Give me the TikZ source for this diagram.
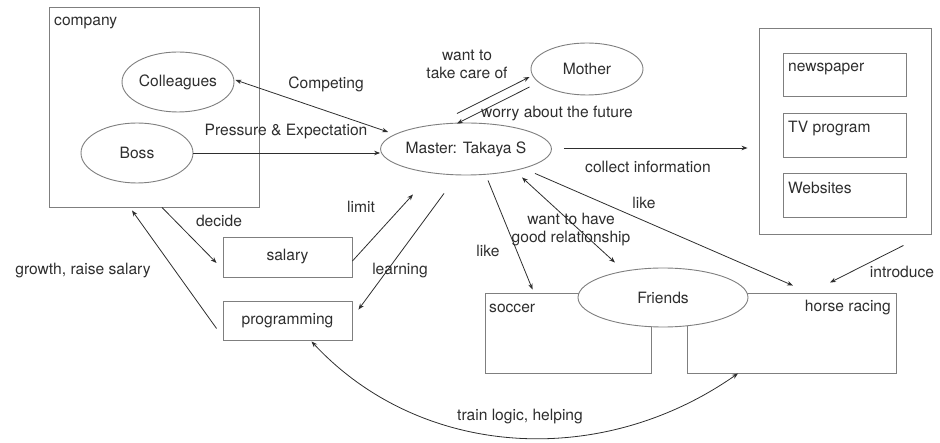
\documentclass[tikz,border=0pt]{standalone}
\usepackage{fontspec}
\setmainfont{TeX Gyre Heros}
\usetikzlibrary{shapes.geometric,arrows.meta}
\definecolor{boxgray}{HTML}{7F7F7F}
\definecolor{ink}{HTML}{2E2E2E}

\begin{document}
\begin{tikzpicture}[x=1pt,y=-1pt,
  font=\fontsize{15.6}{18}\selectfont,
  every node/.style={text=ink},
  frame/.style={draw=boxgray, line width=0.9pt, rectangle, inner sep=0pt},
  oval/.style={draw=boxgray, line width=0.9pt, ellipse, inner sep=0pt, fill=white},
  lbl/.style={inner sep=0pt, align=center},
  arr/.style={draw=ink, line width=0.8pt, -{Stealth[length=6pt,width=4.5pt]}},
  biarr/.style={draw=ink, line width=0.8pt, {Stealth[length=6pt,width=4.5pt]}-{Stealth[length=6pt,width=4.5pt]}}]

\useasboundingbox (0,0) rectangle (940,443);

% --- company group
\node[frame, minimum width=210pt, minimum height=200pt] (company) at (154,107) {};
\node[lbl, anchor=west] (companylbl) at (54,23) {company};
\node[oval, minimum width=112pt, minimum height=60pt] (coll) at (178,82) {Colleagues};
\node[oval, minimum width=112pt, minimum height=60pt] (boss) at (137,153) {Boss};

% --- central person and family
\node[oval, minimum width=168pt, minimum height=52pt] (master) at (466,149) {Master: Takaya S};
\node[oval, minimum width=112pt, minimum height=52pt] (mother) at (587,69) {Mother};

% --- media sources
\node[frame, minimum width=172pt, minimum height=206pt] (media) at (845,131) {};
\node[frame, minimum width=123pt, minimum height=43pt] (news) at (844.5,74.5) {};
\node[lbl, anchor=west] (newslbl) at (788,69) {newspaper};
\node[frame, minimum width=123pt, minimum height=44pt] (tv) at (844.5,135) {};
\node[lbl, anchor=west] (tvlbl) at (788,129) {TV program};
\node[frame, minimum width=123pt, minimum height=44pt] (web) at (844.5,195) {};
\node[lbl, anchor=west] (weblbl) at (788,188) {Websites};

% --- work boxes
\node[frame, minimum width=129pt, minimum height=40pt] (salary) at (287.5,257) {salary};
\node[frame, minimum width=129pt, minimum height=39pt] (prog) at (287.5,320.5) {programming};

% --- hobbies and friends
\node[frame, minimum width=166pt, minimum height=80pt] (soccer) at (568,333) {};
\node[lbl, anchor=west] (soccerlbl) at (489,308) {soccer};
\node[frame, minimum width=209pt, minimum height=80pt] (horse) at (791.5,333) {};
\node[lbl, anchor=east] (horselbl) at (891,308) {horse racing};
\node[oval, minimum width=170pt, minimum height=59pt] (friends) at (663,297.5) {Friends};

% --- connectors
\draw[biarr] ([xshift=1pt,yshift=2pt]coll.east) -- ([xshift=8pt,yshift=17pt]master.west);
\node[lbl] (competing) at (326,84) {Competing};

\draw[arr] (boss.east) -- ([yshift=-4pt]master.west);
\node[lbl] (pressure) at (286,132) {Pressure \& Expectation};

\draw[arr] ([xshift=-9pt,yshift=9pt]master.north) -- ([xshift=-1pt,yshift=-8pt]mother.west);
\node[lbl] (takecare) at (467,64) {want to\\take care of};
\draw[arr] ([xshift=-1pt,yshift=-18pt]mother.west) -- ([xshift=-9pt,yshift=-1pt]master.north);
\node[lbl] (worry) at (557,113) {worry about the future};

\draw[arr] ([xshift=12pt,yshift=1pt]master.east) -- ([xshift=-11pt,yshift=-17pt]media.west);
\node[lbl] (collect) at (648,167) {collect information};

\draw[arr] ([xshift=8pt]company.south) -- ([xshift=-6pt,yshift=-6pt]salary.west);
\node[lbl] (decide) at (219,221) {decide};

\draw[arr] ([xshift=-6pt,yshift=-8pt]prog.west) -- ([xshift=-22pt,yshift=-3pt]company.south);
\node[lbl] (growth) at (83,271) {growth, raise salary};

\draw[arr] ([yshift=-4pt]salary.east) -- ([xshift=-53pt,yshift=-19pt]master.south);
\node[lbl] (limit) at (361,207) {limit};

\draw[arr] ([xshift=-22pt,yshift=-18pt]master.south) -- ([xshift=6pt,yshift=-9pt]prog.north east);
\node[lbl] (learning) at (400,271) {learning};

\draw[arr] ([xshift=22pt,yshift=-5pt]master.south) -- ([xshift=48pt,yshift=3pt]soccer.north west);
\node[lbl] (likesoccer) at (488,251) {like};

\draw[biarr] ([xshift=56pt,yshift=-2pt]master.south) -- ([xshift=-48pt,yshift=5pt]friends.north);
\node[lbl] (relation) at (571,230) {want to have\\good relationship};

\draw[arr] ([xshift=69pt,yshift=2pt]master.south) -- ([xshift=1.5pt,yshift=7pt]horse.north);
\node[lbl] (likehorse) at (644,203) {like};

\draw[arr] ([xshift=-28pt,yshift=-11pt]media.south east) -- ([xshift=38.5pt,yshift=10pt]horse.north);
\node[lbl] (introduce) at (902,272) {introduce};

\draw[biarr] ([xshift=24pt,yshift=-1pt]prog.south) .. controls (420,458) and (600,470) .. ([xshift=-53.5pt]horse.south);
\node[lbl] (train) at (520,417) {train logic, helping};

\end{tikzpicture}
\end{document}
